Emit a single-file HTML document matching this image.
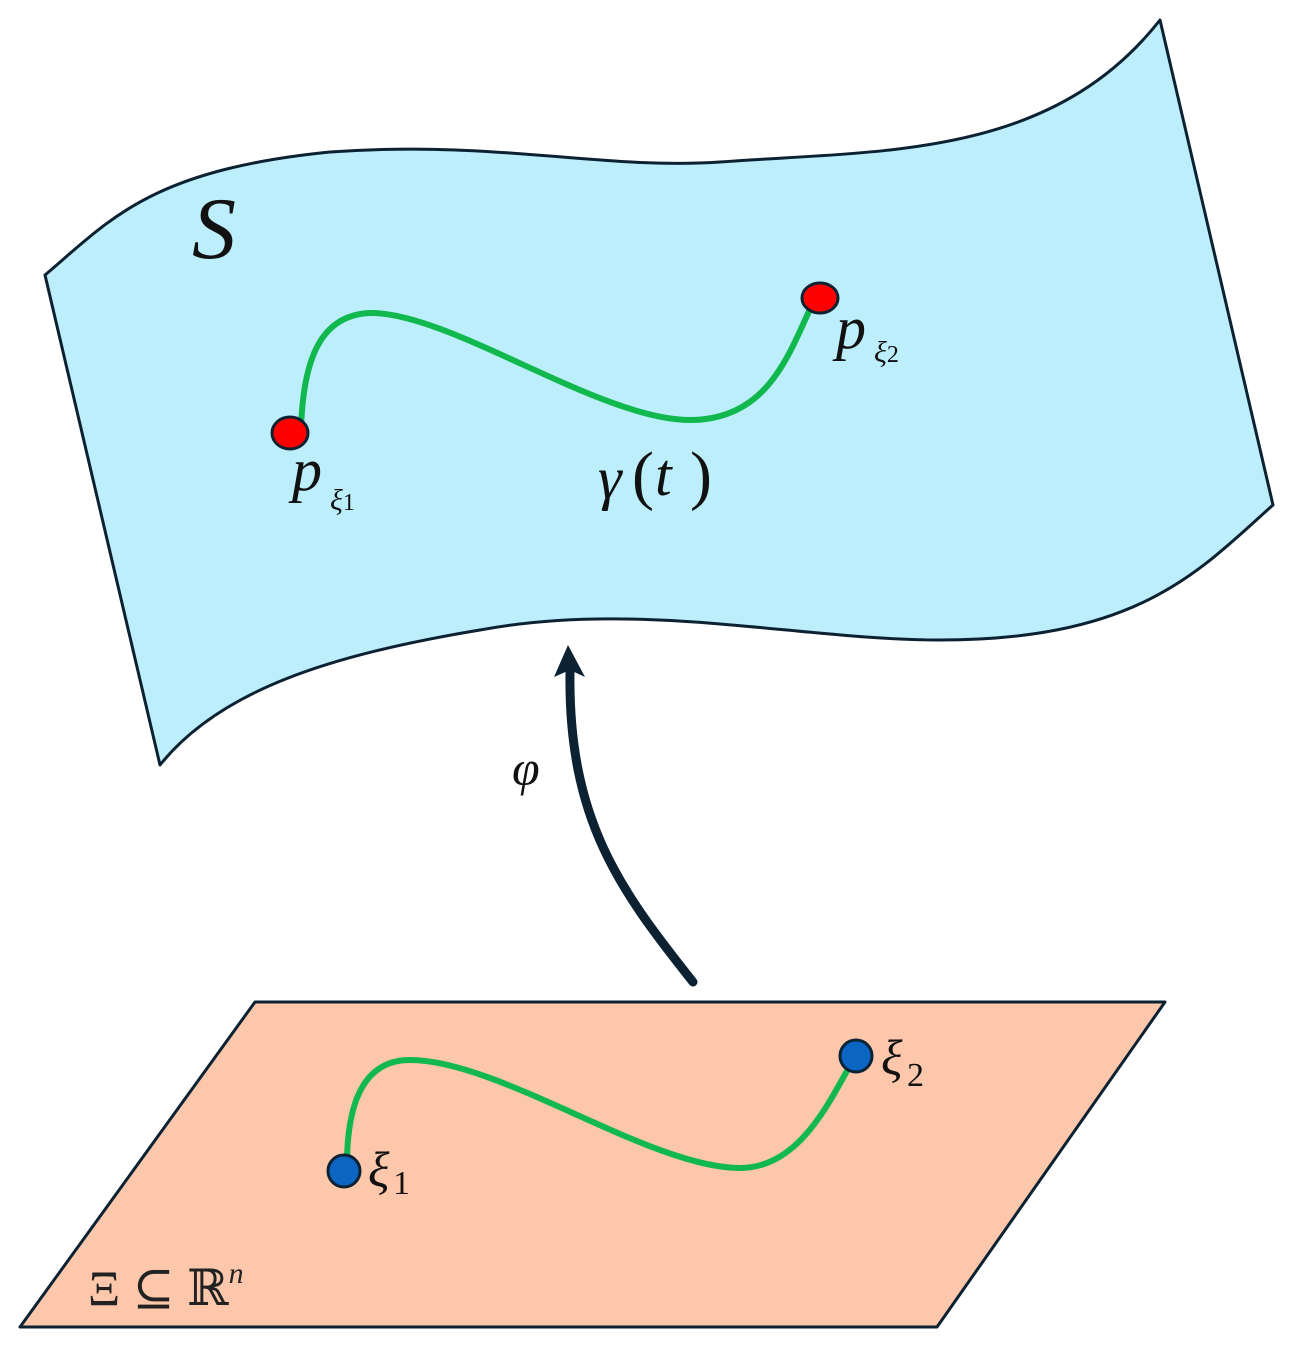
<!DOCTYPE html>
<html><head><style>html,body{margin:0;padding:0;background:#fff}svg{display:block}text{font-family:"Liberation Serif","DejaVu Serif",serif}</style></head>
<body>
<svg width="1295" height="1346" viewBox="0 0 1295 1346" xmlns="http://www.w3.org/2000/svg">
<path d="M45,275 C110,220 150,170 330,152 C500,140 600,170 720,162 C880,150 1050,160 1160,20 L1273,505 C1200,570 1140,640 940,640 C800,640 640,600 480,630 C330,655 220,690 160,765 Z" fill="#bdeefb" stroke="#0c2233" stroke-width="3" stroke-linejoin="round"/>
<text x="192" y="258" font-size="88" font-style="italic" fill="#111">S</text>
<path d="M301,430 C303,360 320,315 370,313 C450,312 600,420 690,420 C770,420 790,350 812,305" fill="none" stroke="#11b84e" stroke-width="6" stroke-linecap="round"/>
<ellipse cx="290" cy="433" rx="18" ry="16" fill="#f00" stroke="#0c2233" stroke-width="3"/>
<ellipse cx="820" cy="298" rx="18" ry="15" fill="#f00" stroke="#0c2233" stroke-width="3"/>
<text x="292" y="490" font-size="60" font-style="italic" fill="#111">p</text>
<text x="330" y="510" font-size="30" font-style="italic" fill="#111">ξ<tspan font-style="normal" font-size="24">1</tspan></text>
<text x="836" y="348" font-size="60" font-style="italic" fill="#111">p</text>
<text x="874" y="362" font-size="30" font-style="italic" fill="#111">ξ<tspan font-style="normal" font-size="24">2</tspan></text>
<text x="598" y="498" font-size="60" font-style="italic" fill="#111">γ</text>
<text x="632" y="497" font-size="66" fill="#111">(</text>
<text x="655" y="495" font-size="60" font-style="italic" fill="#111">t</text>
<text x="690" y="497" font-size="66" fill="#111">)</text>
<path d="M693,982 C620,890 568,820 570,672" fill="none" stroke="#0c2233" stroke-width="9" stroke-linecap="round"/>
<path d="M568,645 L554,677 L570,670 L585,677 Z" fill="#0c2233"/>
<text x="512" y="785" font-size="50" font-style="italic" fill="#111">φ</text>
<path d="M255,1002 L1165,1002 L937,1327 L20,1327 Z" fill="#fcc7ab" stroke="#0c2233" stroke-width="3" stroke-linejoin="round"/>
<path d="M347,1160 C348,1100 365,1060 410,1060 C500,1060 650,1168 740,1168 C800,1168 830,1100 852,1062" fill="none" stroke="#11b84e" stroke-width="6" stroke-linecap="round"/>
<circle cx="344" cy="1171" r="16" fill="#0a66c2" stroke="#0c2233" stroke-width="3"/>
<circle cx="856" cy="1056" r="16" fill="#0a66c2" stroke="#0c2233" stroke-width="3"/>
<text x="368" y="1186" font-size="50" font-style="italic" fill="#111">ξ</text>
<text x="393" y="1194" font-size="34" fill="#111">1</text>
<text x="881" y="1074" font-size="50" font-style="italic" fill="#111">ξ</text>
<text x="907" y="1086" font-size="34" fill="#111">2</text>
<text x="88" y="1305" font-size="50" fill="#222">Ξ ⊆ ℝ<tspan font-size="30" font-style="italic" dy="-22">n</tspan></text>
</svg>
</body></html>
